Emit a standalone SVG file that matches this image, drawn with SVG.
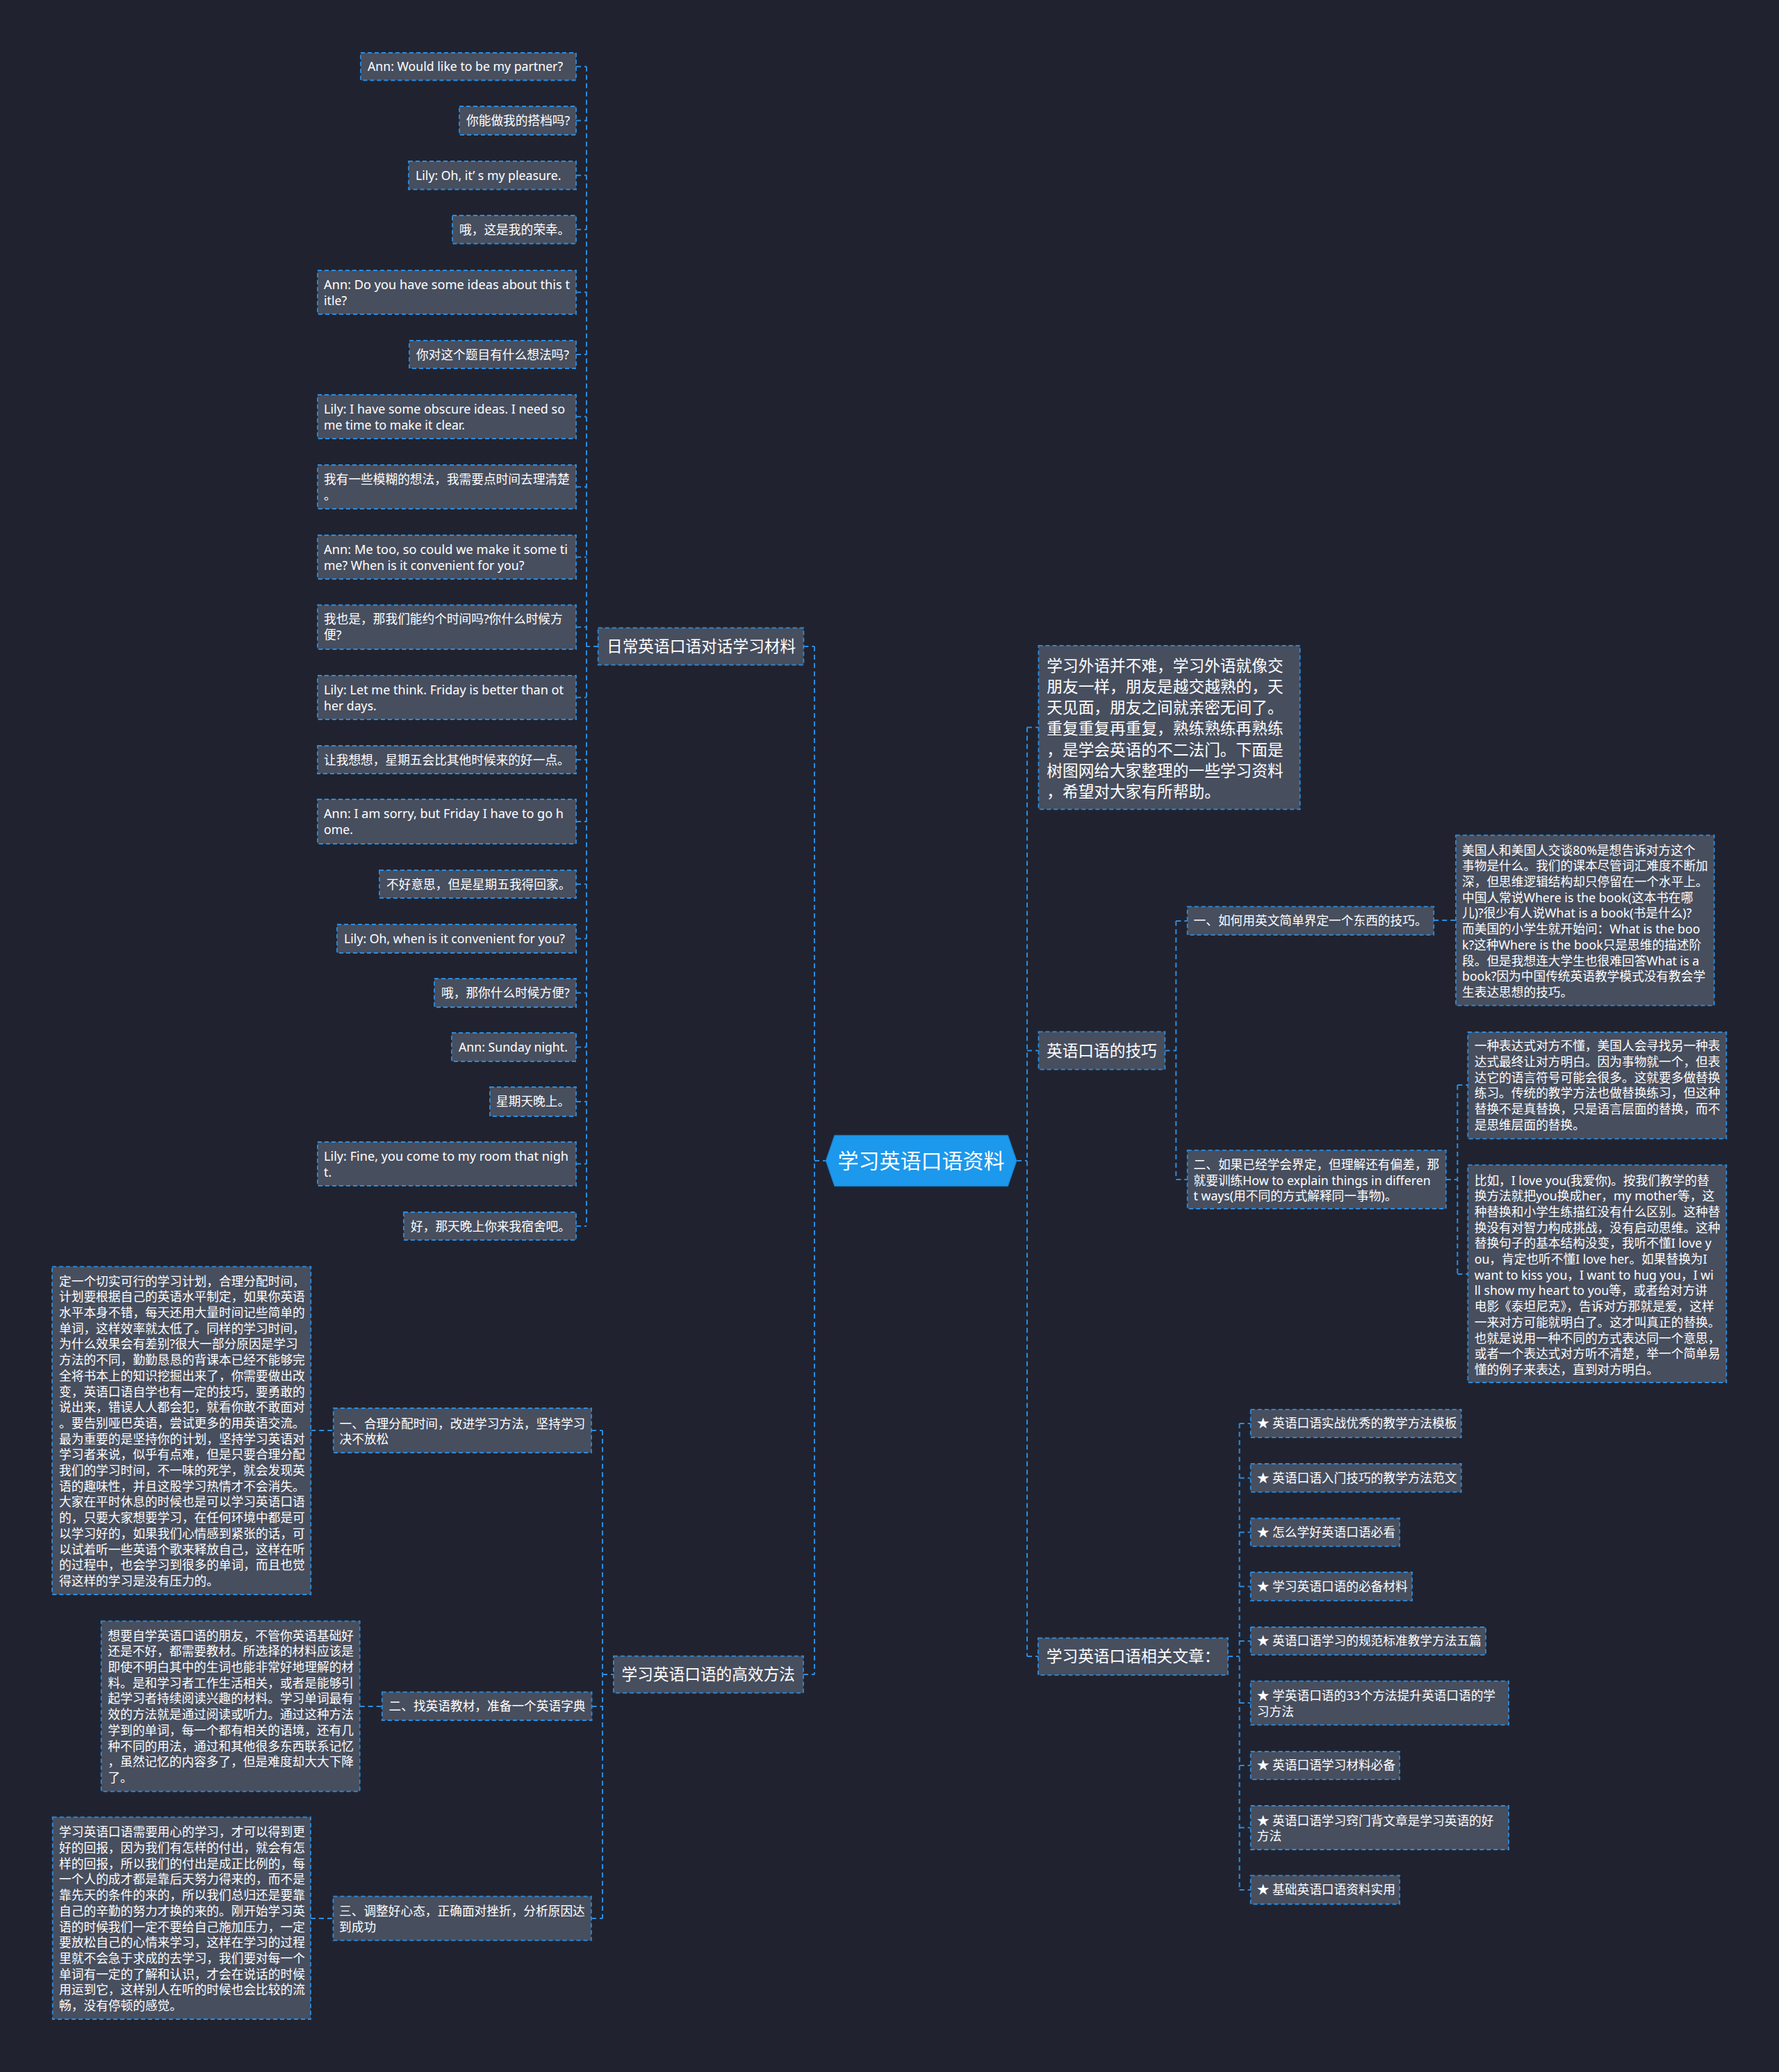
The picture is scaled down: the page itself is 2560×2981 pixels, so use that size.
<svg xmlns="http://www.w3.org/2000/svg" width="2560" height="2981" viewBox="0 0 2560 2981">
<defs>
<style>
.n{fill:#474e5e;stroke:#2b8ce0;stroke-width:1.8;stroke-dasharray:6 4;}
.t{font-family:"Noto Sans","Noto Sans CJK SC",sans-serif;font-size:17.7px;fill:#ffffff;}
.m{font-size:22.7px;}
.l{font-size:30px;}
.c{fill:none;stroke:#2b8ce0;stroke-width:2;stroke-dasharray:7 5;}
</style>
</defs>
<rect x="0" y="0" width="2560" height="2981" fill="#20232f"/>

<g id="connectors">
<path class="c" d="M1172,930 V2409 M1156.4,930 H1172 M1156,2409 H1172 M1172,1670 H1188.3"/>
<path class="c" d="M844,95.75 V1764 M861,930 H844"/>
<path class="c" d="M829,95.75 H844 M829,173.5 H844 M829,252.25 H844 M829,330.25 H844 M829,420.5 H844 M829,510 H844 M829,599.5 H844 M829,700.5 H844 M829,801.5 H844 M829,902.25 H844 M829,1003.5 H844 M829,1093 H844 M829,1182 H844 M829,1272 H844 M829,1350.5 H844 M829,1428.5 H844 M829,1506.5 H844 M829,1585 H844 M829,1674.5 H844 M829,1764 H844"/>
<path class="c" d="M867,2058 V2760 M867,2409 H883 M851,2058 H867 M851.5,2455 H867 M851,2760 H867"/>
<path class="c" d="M447.3,2058 H480 M517.7,2455 H550 M447,2760 H479.5"/>
<path class="c" d="M1478,1046.6 V2383 M1463,1670 H1478 M1478,1046.6 H1494.5 M1478,1511.5 H1494.5 M1478,2383 H1494"/>
<path class="c" d="M1692.3,1325 V1697 M1676.4,1511.5 H1692.3 M1692.3,1325 H1708.7 M1692.3,1697 H1708.7"/>
<path class="c" d="M2063.2,1324 H2095"/>
<path class="c" d="M2097.3,1561 V1833 M2080.8,1697 H2097.3 M2097.3,1561 H2112.3 M2097.3,1833 H2112.3"/>
<path class="c" d="M1783.6,2048 V2719 M1767,2383 H1783.6 M1783.6,2048 H1799.7 M1783.6,2126.4 H1799.7 M1783.6,2204.6 H1799.7 M1783.6,2282.4 H1799.7 M1783.6,2361 H1799.7 M1783.6,2450 H1799.7 M1783.6,2540 H1799.7 M1783.6,2629.5 H1799.7 M1783.6,2719 H1799.7"/>
</g>

<g id="root">
<polygon points="1188.3,1670 1200.9,1633.3 1450.4,1633.3 1463,1670 1450.4,1706.7 1200.9,1706.7" fill="#1c98ec" stroke="#157bc8" stroke-width="1"/>
<text class="t l" x="1325.6" y="1680.8" text-anchor="middle">学习英语口语资料</text>
</g>

<g id="daily">
<rect class="n" x="860.7" y="903.3" width="295.7" height="53.4"/>
<text class="t m" x="873" y="938.2">日常英语口语对话学习材料</text>
</g>

<g id="d1"><rect class="n" x="519" y="76" width="310" height="39.5"/><text class="t" x="529" y="102">Ann: Would like to be my partner?</text></g>
<g id="d2"><rect class="n" x="661" y="153" width="168" height="41"/><text class="t" x="671" y="180">你能做我的搭档吗?</text></g>
<g id="d3"><rect class="n" x="588" y="232" width="241" height="40.5"/><text class="t" x="598" y="258.5">Lily: Oh, it’ s my pleasure.</text></g>
<g id="d4"><rect class="n" x="651" y="310" width="178" height="40.5"/><text class="t" x="661" y="336.5">哦，这是我的荣幸。</text></g>
<g id="d5"><rect class="n" x="457" y="389" width="372" height="63"/><text class="t" x="466" y="415.8" textLength="354" lengthAdjust="spacingAndGlyphs">Ann: Do you have some ideas about this t</text><text class="t" x="466" y="438.5">itle?</text></g>
<g id="d6"><rect class="n" x="589" y="490" width="240" height="40"/><text class="t" x="599" y="516.5">你对这个题目有什么想法吗?</text></g>
<g id="d7"><rect class="n" x="457" y="568" width="372" height="63"/><text class="t" x="466" y="594.8" textLength="347" lengthAdjust="spacingAndGlyphs">Lily: I have some obscure ideas. I need so</text><text class="t" x="466" y="617.5">me time to make it clear.</text></g>
<g id="d8"><rect class="n" x="457" y="669" width="372" height="63"/><text class="t" x="466" y="695.8">我有一些模糊的想法，我需要点时间去理清楚</text><text class="t" x="466" y="718.5">。</text></g>
<g id="d9"><rect class="n" x="457" y="770" width="372" height="63"/><text class="t" x="466" y="796.8" textLength="351" lengthAdjust="spacingAndGlyphs">Ann: Me too, so could we make it some ti</text><text class="t" x="466" y="819.5">me? When is it convenient for you?</text></g>
<g id="d10"><rect class="n" x="457" y="870.5" width="372" height="63.5"/><text class="t" x="466" y="897.3">我也是，那我们能约个时间吗?你什么时候方</text><text class="t" x="466" y="920">便?</text></g>
<g id="d11"><rect class="n" x="457" y="972" width="372" height="63"/><text class="t" x="466" y="998.8" textLength="345" lengthAdjust="spacingAndGlyphs">Lily: Let me think. Friday is better than ot</text><text class="t" x="466" y="1021.5">her days.</text></g>
<g id="d12"><rect class="n" x="457" y="1073" width="372" height="40"/><text class="t" x="466" y="1099.5">让我想想，星期五会比其他时候来的好一点。</text></g>
<g id="d13"><rect class="n" x="457" y="1150" width="372" height="64"/><text class="t" x="466" y="1176.8" textLength="345" lengthAdjust="spacingAndGlyphs">Ann: I am sorry, but Friday I have to go h</text><text class="t" x="466" y="1199.5">ome.</text></g>
<g id="d14"><rect class="n" x="546" y="1252" width="283" height="40"/><text class="t" x="556" y="1278.5">不好意思，但是星期五我得回家。</text></g>
<g id="d15"><rect class="n" x="485" y="1330" width="344" height="41"/><text class="t" x="495" y="1356.5">Lily: Oh, when is it convenient for you?</text></g>
<g id="d16"><rect class="n" x="625" y="1408" width="204" height="41"/><text class="t" x="635" y="1434.5">哦，那你什么时候方便?</text></g>
<g id="d17"><rect class="n" x="650" y="1486" width="179" height="41"/><text class="t" x="660" y="1512.5">Ann: Sunday night.</text></g>
<g id="d18"><rect class="n" x="705" y="1564" width="124" height="42"/><text class="t" x="714" y="1591">星期天晚上。</text></g>
<g id="d19"><rect class="n" x="457" y="1643" width="372" height="63"/><text class="t" x="466" y="1669.8" textLength="352" lengthAdjust="spacingAndGlyphs">Lily: Fine, you come to my room that nigh</text><text class="t" x="466" y="1692.5">t.</text></g>
<g id="d20"><rect class="n" x="581" y="1744" width="248" height="40"/><text class="t" x="591" y="1770.5">好，那天晚上你来我宿舍吧。</text></g>

<g id="method">
<rect class="n" x="882.9" y="2382.7" width="273.1" height="53"/>
<text class="t m" x="894.5" y="2417.2">学习英语口语的高效方法</text>
</g>
<g id="m1">
<rect class="n" x="479.8" y="2026" width="371.2" height="64"/>
<text class="t" x="488.5" y="2055">一、合理分配时间，改进学习方法，坚持学习</text>
<text class="t" x="488.5" y="2077">决不放松</text>
</g>
<g id="m1d">
<rect class="n" x="75" y="1822.3" width="372.3" height="471.7"/>
<text class="t" x="85" y="1849.6">定一个切实可行的学习计划，合理分配时间，</text>
<text class="t" x="85" y="1872.3">计划要根据自己的英语水平制定，如果你英语</text>
<text class="t" x="85" y="1895">水平本身不错，每天还用大量时间记些简单的</text>
<text class="t" x="85" y="1917.7">单词，这样效率就太低了。同样的学习时间，</text>
<text class="t" x="85" y="1940.4">为什么效果会有差别?很大一部分原因是学习</text>
<text class="t" x="85" y="1963.1">方法的不同，勤勤恳恳的背课本已经不能够完</text>
<text class="t" x="85" y="1985.8">全将书本上的知识挖掘出来了，你需要做出改</text>
<text class="t" x="85" y="2008.5">变，英语口语自学也有一定的技巧，要勇敢的</text>
<text class="t" x="85" y="2031.2">说出来，错误人人都会犯，就看你敢不敢面对</text>
<text class="t" x="85" y="2053.9">。要告别哑巴英语，尝试更多的用英语交流。</text>
<text class="t" x="85" y="2076.6">最为重要的是坚持你的计划，坚持学习英语对</text>
<text class="t" x="85" y="2099.3">学习者来说，似乎有点难，但是只要合理分配</text>
<text class="t" x="85" y="2122">我们的学习时间，不一味的死学，就会发现英</text>
<text class="t" x="85" y="2144.7">语的趣味性，并且这股学习热情才不会消失。</text>
<text class="t" x="85" y="2167.4">大家在平时休息的时候也是可以学习英语口语</text>
<text class="t" x="85" y="2190.1">的，只要大家想要学习，在任何环境中都是可</text>
<text class="t" x="85" y="2212.8">以学习好的，如果我们心情感到紧张的话，可</text>
<text class="t" x="85" y="2235.5">以试着听一些英语个歌来释放自己，这样在听</text>
<text class="t" x="85" y="2258.2">的过程中，也会学习到很多的单词，而且也觉</text>
<text class="t" x="85" y="2280.9">得这样的学习是没有压力的。</text>
</g>
<g id="m2">
<rect class="n" x="549.8" y="2434.3" width="301.7" height="40.7"/>
<text class="t" x="559.5" y="2461">二、找英语教材，准备一个英语字典</text>
</g>
<g id="m2d">
<rect class="n" x="145.7" y="2332.3" width="372" height="245"/>
<text class="t" x="155.3" y="2359.6">想要自学英语口语的朋友，不管你英语基础好</text>
<text class="t" x="155.3" y="2382.3">还是不好，都需要教材。所选择的材料应该是</text>
<text class="t" x="155.3" y="2405">即使不明白其中的生词也能非常好地理解的材</text>
<text class="t" x="155.3" y="2427.7">料。是和学习者工作生活相关，或者是能够引</text>
<text class="t" x="155.3" y="2450.4">起学习者持续阅读兴趣的材料。学习单词最有</text>
<text class="t" x="155.3" y="2473.1">效的方法就是通过阅读或听力。通过这种方法</text>
<text class="t" x="155.3" y="2495.8">学到的单词，每一个都有相关的语境，还有几</text>
<text class="t" x="155.3" y="2518.5">种不同的用法，通过和其他很多东西联系记忆</text>
<text class="t" x="155.3" y="2541.2">，虽然记忆的内容多了，但是难度却大大下降</text>
<text class="t" x="155.3" y="2563.9">了。</text>
</g>
<g id="m3">
<rect class="n" x="479.5" y="2728.3" width="371.3" height="63.4"/>
<text class="t" x="488" y="2756.3">三、调整好心态，正确面对挫折，分析原因达</text>
<text class="t" x="488" y="2778.5">到成功</text>
</g>
<g id="m3d">
<rect class="n" x="75.7" y="2614.3" width="371.3" height="290.7"/>
<text class="t" x="85.1" y="2642.3">学习英语口语需要用心的学习，才可以得到更</text>
<text class="t" x="85.1" y="2665">好的回报，因为我们有怎样的付出，就会有怎</text>
<text class="t" x="85.1" y="2687.7">样的回报，所以我们的付出是成正比例的，每</text>
<text class="t" x="85.1" y="2710.4">一个人的成才都是靠后天努力得来的，而不是</text>
<text class="t" x="85.1" y="2733.1">靠先天的条件的来的，所以我们总归还是要靠</text>
<text class="t" x="85.1" y="2755.8">自己的辛勤的努力才换的来的。刚开始学习英</text>
<text class="t" x="85.1" y="2778.5">语的时候我们一定不要给自己施加压力，一定</text>
<text class="t" x="85.1" y="2801.2">要放松自己的心情来学习，这样在学习的过程</text>
<text class="t" x="85.1" y="2823.9">里就不会急于求成的去学习，我们要对每一个</text>
<text class="t" x="85.1" y="2846.6">单词有一定的了解和认识，才会在说话的时候</text>
<text class="t" x="85.1" y="2869.3">用运到它，这样别人在听的时候也会比较的流</text>
<text class="t" x="85.1" y="2892">畅，没有停顿的感觉。</text>
</g>

<g id="intro">
<rect class="n" x="1494.5" y="928.9" width="376.2" height="235.4"/>
<text class="t m" x="1506.3" y="966">学习外语并不难，学习外语就像交</text>
<text class="t m" x="1506.3" y="996.1">朋友一样，朋友是越交越熟的，天</text>
<text class="t m" x="1506.3" y="1026.3">天见面，朋友之间就亲密无间了。</text>
<text class="t m" x="1506.3" y="1056.4">重复重复再重复，熟练熟练再熟练</text>
<text class="t m" x="1506.3" y="1086.6">，是学会英语的不二法门。下面是</text>
<text class="t m" x="1506.3" y="1116.7">树图网给大家整理的一些学习资料</text>
<text class="t m" x="1506.3" y="1146.9">，希望对大家有所帮助。</text>
</g>

<g id="skills">
<rect class="n" x="1494.5" y="1484.3" width="181.9" height="54.4"/>
<text class="t m" x="1506" y="1519.7">英语口语的技巧</text>
</g>
<g id="s1">
<rect class="n" x="1708.7" y="1304.4" width="354.5" height="40.8"/>
<text class="t" x="1717.5" y="1331.1">一、如何用英文简单界定一个东西的技巧。</text>
</g>
<g id="s1d">
<rect class="n" x="2095" y="1201.7" width="371.7" height="245"/>
<text class="t" x="2104" y="1229.6">美国人和美国人交谈80%是想告诉对方这个</text>
<text class="t" x="2104" y="1252.3">事物是什么。我们的课本尽管词汇难度不断加</text>
<text class="t" x="2104" y="1275">深，但思维逻辑结构却只停留在一个水平上。</text>
<text class="t" x="2104" y="1297.7">中国人常说Where is the book(这本书在哪</text>
<text class="t" x="2104" y="1320.4">儿)?很少有人说What is a book(书是什么)?</text>
<text class="t" x="2104" y="1343.1">而美国的小学生就开始问：What is the boo</text>
<text class="t" x="2104" y="1365.8">k?这种Where is the book只是思维的描述阶</text>
<text class="t" x="2104" y="1388.5">段。但是我想连大学生也很难回答What is a</text>
<text class="t" x="2104" y="1411.2">book?因为中国传统英语教学模式没有教会学</text>
<text class="t" x="2104" y="1433.9">生表达思想的技巧。</text>
</g>
<g id="s2">
<rect class="n" x="1708.7" y="1654.8" width="372.1" height="84.2"/>
<text class="t" x="1717.5" y="1682">二、如果已经学会界定，但理解还有偏差，那</text>
<text class="t" x="1717.5" y="1704.5">就要训练How to explain things in differen</text>
<text class="t" x="1717.5" y="1727">t ways(用不同的方式解释同一事物)。</text>
</g>
<g id="s2a">
<rect class="n" x="2112.3" y="1485" width="372" height="153.3"/>
<text class="t" x="2121.7" y="1511.3">一种表达式对方不懂，美国人会寻找另一种表</text>
<text class="t" x="2121.7" y="1534">达式最终让对方明白。因为事物就一个，但表</text>
<text class="t" x="2121.7" y="1556.7">达它的语言符号可能会很多。这就要多做替换</text>
<text class="t" x="2121.7" y="1579.4">练习。传统的教学方法也做替换练习，但这种</text>
<text class="t" x="2121.7" y="1602.1">替换不是真替换，只是语言层面的替换，而不</text>
<text class="t" x="2121.7" y="1624.8">是思维层面的替换。</text>
</g>
<g id="s2b">
<rect class="n" x="2112.3" y="1676.2" width="372" height="312.8"/>
<text class="t" x="2121.7" y="1704.5">比如，I love you(我爱你)。按我们教学的替</text>
<text class="t" x="2121.7" y="1727.2">换方法就把you换成her，my mother等，这</text>
<text class="t" x="2121.7" y="1749.9">种替换和小学生练描红没有什么区别。这种替</text>
<text class="t" x="2121.7" y="1772.6">换没有对智力构成挑战，没有启动思维。这种</text>
<text class="t" x="2121.7" y="1795.3">替换句子的基本结构没变，我听不懂I love y</text>
<text class="t" x="2121.7" y="1818">ou，肯定也听不懂I love her。如果替换为I</text>
<text class="t" x="2121.7" y="1840.7">want to kiss you，I want to hug you，I wi</text>
<text class="t" x="2121.7" y="1863.4">ll show my heart to you等，或者给对方讲</text>
<text class="t" x="2121.7" y="1886.1">电影《泰坦尼克》，告诉对方那就是爱，这样</text>
<text class="t" x="2121.7" y="1908.8">一来对方可能就明白了。这才叫真正的替换。</text>
<text class="t" x="2121.7" y="1931.5">也就是说用一种不同的方式表达同一个意思，</text>
<text class="t" x="2121.7" y="1954.2">或者一个表达式对方听不清楚，举一个简单易</text>
<text class="t" x="2121.7" y="1976.9">懂的例子来表达，直到对方明白。</text>
</g>

<g id="articles">
<rect class="n" x="1493.9" y="2356.6" width="273.1" height="53.3"/>
<text class="t m" x="1505.8" y="2391.4">学习英语口语相关文章：</text>
</g>
<g id="a1"><rect class="n" x="1799.7" y="2027.9" width="303" height="40.3"/><text class="t" x="1808.8" y="2054.3">★ 英语口语实战优秀的教学方法模板</text></g>
<g id="a2"><rect class="n" x="1799.7" y="2106" width="303" height="40.7"/><text class="t" x="1808.8" y="2132.7">★ 英语口语入门技巧的教学方法范文</text></g>
<g id="a3"><rect class="n" x="1799.7" y="2184.5" width="214.3" height="40.2"/><text class="t" x="1808.8" y="2210.9">★ 怎么学好英语口语必看</text></g>
<g id="a4"><rect class="n" x="1799.7" y="2262" width="232.3" height="40.8"/><text class="t" x="1808.8" y="2288.7">★ 学习英语口语的必备材料</text></g>
<g id="a5"><rect class="n" x="1799.7" y="2341" width="338.3" height="39.8"/><text class="t" x="1808.8" y="2367.2">★ 英语口语学习的规范标准教学方法五篇</text></g>
<g id="a6"><rect class="n" x="1799.7" y="2418.6" width="371.3" height="63.1"/><text class="t" x="1808.8" y="2445.8">★ 学英语口语的33个方法提升英语口语的学</text><text class="t" x="1808.8" y="2468.5">习方法</text></g>
<g id="a7"><rect class="n" x="1799.7" y="2520" width="214.3" height="40.2"/><text class="t" x="1808.8" y="2546.4">★ 英语口语学习材料必备</text></g>
<g id="a8"><rect class="n" x="1799.7" y="2598" width="371.3" height="63"/><text class="t" x="1808.8" y="2625.6">★ 英语口语学习窍门背文章是学习英语的好</text><text class="t" x="1808.8" y="2648.3">方法</text></g>
<g id="a9"><rect class="n" x="1799.7" y="2698.3" width="214.3" height="41.2"/><text class="t" x="1808.8" y="2725.2">★ 基础英语口语资料实用</text></g>
</svg>
